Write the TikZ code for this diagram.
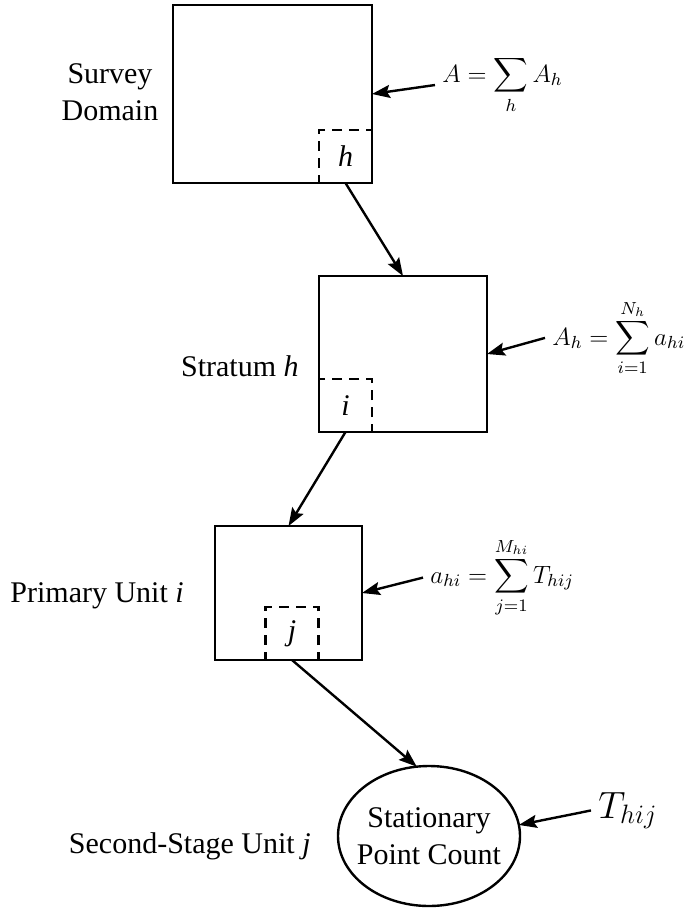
\documentclass[tikz,border=0pt]{standalone}
\usepackage{fix-cm}
\usepackage{amsmath}
\usepackage{fontspec}
\setmainfont{Liberation Serif}
\usetikzlibrary{arrows.meta,shapes.geometric}
\begin{document}
\begin{tikzpicture}[x=0.5pt, y=-0.5pt,
  unit/.style={draw, line width=1.2pt, inner sep=0pt, outer sep=0pt},
  sub/.style={draw, dash pattern=on 5pt off 3.5pt, line width=1.1pt, minimum size=26.5pt,
    inner sep=0pt, outer sep=0pt, font=\fontsize{15}{18}\selectfont\itshape},
  lbl/.style={font=\fontsize{15}{18.5}\selectfont, align=center, inner sep=0pt},
  eq/.style={font=\fontsize{12.5}{15}\selectfont, inner xsep=3.5pt, inner ysep=0pt},
  arr/.style={line width=1.2pt, -{Stealth[length=9pt, width=6.5pt, inset=1.5pt]}}]
  \useasboundingbox (0,0) rectangle (686,922);
  % sampling units
  \node[unit, minimum width=99.5pt, minimum height=89pt] (dom) at (272.5,94) {};
  \node[unit, minimum width=84pt, minimum height=78pt] (stratum) at (403,354) {};
  \node[unit, minimum width=73.5pt, minimum height=67pt] (primary) at (288.5,593) {};
  \node[unit, ellipse, lbl, inner xsep=-8pt, minimum width=91pt, minimum height=70pt] (second) at (429,836) {Stationary\\Point Count};
  \node[sub, anchor=south east] (hbox) at (dom.south east) {h};
  \node[sub, anchor=south west] (ibox) at (stratum.south west) {i};
  \node[sub, anchor=south] (jbox) at ([xshift=1.75pt]primary.south) {j};
  % labels
  \node[lbl] (domlbl) at (110,92) {Survey\\Domain};
  \node[lbl, anchor=east] (strlbl) at (299,366) {Stratum \textit{h}};
  \node[lbl, anchor=west] (prilbl) at (10,596) {Primary Unit \textit{i}};
  \node[lbl, anchor=east] (seclbl) at (311,846) {Second-Stage Unit \textit{j}};
  % totals
  \node[eq, anchor=base west] (eqA) at (435,82) {$\displaystyle A=\sum_{h} A_h$};
  \node[eq, anchor=base west] (eqAh) at (545,345) {$\displaystyle A_h=\sum_{i=1}^{N_h} a_{hi}$};
  \node[eq, anchor=base west] (eqahi) at (423,583) {$\displaystyle a_{hi}=\sum_{j=1}^{M_{hi}} T_{hij}$};
  \node[eq, anchor=base west, font=\fontsize{19}{23}\selectfont] (eqT) at (591,818) {$T_{hij}$};
  % arrows
  \draw[arr] (hbox.south) -- (stratum.north);
  \draw[arr] (ibox.south) -- (primary.north);
  \draw[arr] (jbox.south) -- (second.100);
  \draw[arr] (eqA.west) -- (dom.east);
  \draw[arr] (eqAh.west) -- (stratum.east);
  \draw[arr] (eqahi.west) -- (primary.east);
  \draw[arr] (eqT.west) -- (second.7);
\end{tikzpicture}
\end{document}
